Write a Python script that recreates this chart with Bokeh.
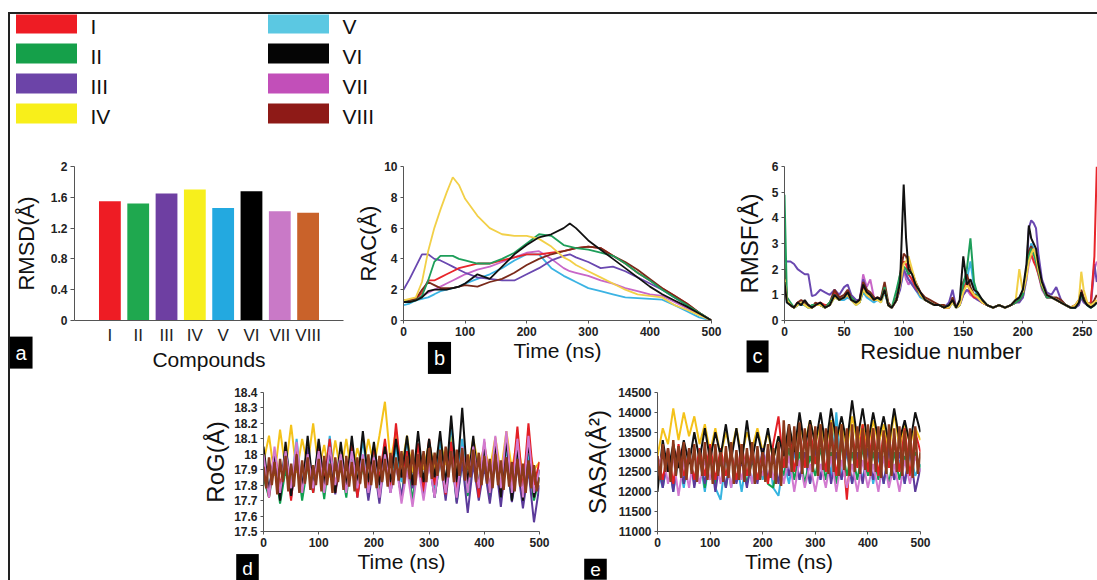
from bokeh.plotting import figure
from bokeh.layouts import column, row
from bokeh.models import Range1d, FactorRange, FixedTicker, NumeralTickFormatter, Label, Spacer, ColumnDataSource
from bokeh.core.properties import value
from bokeh.embed import file_html
from bokeh.resources import INLINE

FONT = "Liberation Sans"

# ---------------- data ----------------
compounds = ["I", "II", "III", "IV", "V", "VI", "VII", "VIII"]
legend_colors = ["#ee1c24", "#15a04a", "#6c44a8", "#f8ef1a", "#5bc8e2", "#050505", "#c24fb9", "#8e1a17"]
bar_colors = ["#ee1c24", "#1fa84f", "#6e3fa2", "#f7ef1c", "#23a9e0", "#000000", "#c979c7", "#c9622a"]
line_colors = ["#e8262b", "#1e9e5a", "#6a48b0", "#f2d048", "#3bb3e3", "#111111", "#c866c8", "#7a2a1a"]
band_colors = ["#e31e24", "#10a050", "#5b3a9a", "#f4c21a", "#35b4e0", "#111111", "#d27ad0", "#8c3a1c"]

rmsd = [1.55, 1.52, 1.65, 1.70, 1.46, 1.68, 1.42, 1.40]

# RAC (b)
rac_time = [0, 10, 20, 30, 40, 50, 60, 70, 80, 90, 100, 120, 140, 160, 180, 200, 220, 240, 260, 270,
            280, 300, 320, 340, 360, 380, 400, 420, 440, 460, 480, 500]
rac_I = [1.3, 1.3, 1.4, 1.8, 2.6, 2.6, 2.8, 3.0, 3.2, 3.4, 3.5, 3.7, 3.7, 3.9, 4.1, 4.3, 4.3, 4.4, 4.5, 4.6,
         4.7, 4.8, 4.7, 4.2, 3.7, 3.1, 2.6, 2.1, 1.6, 1.1, 0.5, 0.0]
rac_II = [1.3, 1.2, 1.3, 1.6, 2.6, 3.8, 4.2, 4.2, 4.2, 4.0, 3.9, 3.7, 3.7, 4.0, 4.4, 5.0, 5.6, 5.5, 4.9, 4.8,
          4.7, 4.6, 4.4, 4.2, 3.7, 3.1, 2.6, 2.0, 1.5, 1.0, 0.5, 0.0]
rac_III = [2.0, 2.7, 3.5, 4.3, 4.3, 4.0, 3.9, 3.7, 3.5, 3.3, 3.1, 2.8, 2.7, 2.6, 2.6, 3.0, 3.4, 3.9, 4.2, 4.3,
           4.1, 3.8, 3.4, 3.5, 3.2, 2.8, 2.4, 2.0, 1.5, 1.0, 0.5, 0.0]
rac_IV = [1.3, 1.4, 1.5, 2.5, 4.5, 6.0, 7.2, 8.3, 9.3, 8.8, 7.9, 6.8, 6.0, 5.6, 5.5, 5.5, 5.3, 4.8, 4.1, 3.9,
          3.6, 3.2, 2.8, 2.4, 2.0, 1.7, 1.6, 1.5, 1.0, 0.7, 0.35, 0.0]
rac_V = [1.0, 1.1, 1.3, 1.4, 1.5, 1.7, 1.9, 2.0, 2.1, 2.2, 2.4, 2.7, 3.0, 3.4, 3.9, 4.3, 4.3, 3.4, 2.9, 2.7,
         2.5, 2.1, 1.9, 1.7, 1.5, 1.45, 1.4, 1.35, 1.0, 0.6, 0.2, 0.0]
rac_VI = [1.2, 1.2, 1.3, 1.5, 1.9, 2.0, 2.0, 2.0, 2.1, 2.2, 2.4, 3.0, 2.7, 3.5, 4.3, 4.9, 5.4, 5.6, 6.0, 6.3,
          6.0, 5.2, 4.6, 4.0, 3.4, 2.8, 2.2, 1.7, 1.3, 0.9, 0.45, 0.0]
rac_VII = [1.2, 1.2, 1.4, 1.6, 1.8, 2.0, 2.2, 2.4, 2.6, 2.8, 3.0, 3.3, 3.5, 3.8, 4.1, 4.4, 4.5, 4.0, 3.4, 3.2,
           3.1, 2.9, 2.6, 2.4, 2.1, 1.9, 1.7, 1.6, 1.2, 0.8, 0.4, 0.0]
rac_VIII = [1.3, 1.3, 1.4, 2.0, 2.5, 2.3, 2.1, 2.1, 2.1, 2.2, 2.3, 2.2, 2.5, 2.7, 3.1, 3.6, 4.0, 4.3, 4.5, 4.6,
            4.7, 4.8, 4.7, 4.2, 3.8, 3.3, 2.7, 2.1, 1.6, 1.1, 0.5, 0.0]

# RMSF (c)
residue = [0, 2, 5, 8, 11, 14, 17, 20, 23, 26,
           30, 34, 38, 42, 46, 50, 53, 56, 60, 63,
           66, 69, 72, 75, 78, 81, 84, 87, 90, 94,
           97, 100, 102, 104, 107, 110, 114, 118, 122, 126,
           130, 134, 138, 141, 144, 147, 150, 153, 156, 159,
           162, 166, 170, 175, 180, 185, 190, 194, 197, 200,
           203, 205, 207, 209, 211, 213, 216, 220, 224, 228,
           232, 236, 240, 244, 247, 249, 251, 254, 257, 260,
           262]
rmsf_I = [1.8, 0.8, 0.6, 0.5, 0.7, 0.7, 0.6, 0.6, 0.5, 0.6,
          0.7, 0.6, 0.6, 1.1, 0.9, 0.9, 1.0, 0.8, 0.7, 0.7,
          1.3, 1.0, 0.9, 0.8, 0.9, 0.8, 1.3, 0.6, 0.5, 0.8,
          1.5, 2.3, 2.2, 1.8, 1.6, 1.3, 1.0, 0.8, 0.7, 0.6,
          0.6, 0.5, 0.5, 0.8, 0.5, 0.7, 1.2, 1.5, 1.1, 0.9,
          0.9, 0.7, 0.6, 0.5, 0.6, 0.5, 0.6, 0.7, 0.8, 1.0,
          1.8, 2.4, 2.6, 2.3, 2.1, 1.8, 1.3, 0.9, 0.9, 0.8,
          0.7, 0.6, 0.5, 0.6, 0.7, 1.1, 0.8, 0.6, 0.7, 2.5,
          6.0]
rmsf_II = [4.9, 0.9, 0.7, 0.5, 0.6, 0.7, 0.6, 0.5, 0.6, 0.6,
           0.6, 0.5, 0.7, 1.0, 0.8, 0.9, 1.0, 0.9, 0.7, 0.7,
           1.2, 1.0, 1.0, 0.8, 0.8, 0.8, 1.3, 0.6, 0.5, 1.2,
           1.8, 2.1, 2.0, 1.8, 1.9, 1.4, 1.0, 0.8, 0.7, 0.6,
           0.6, 0.5, 0.6, 0.7, 0.5, 0.6, 1.4, 2.0, 3.2, 1.5,
           1.0, 0.8, 0.6, 0.5, 0.6, 0.5, 0.6, 0.7, 0.8, 1.0,
           1.8, 2.5, 2.8, 2.6, 2.3, 1.9, 1.3, 0.9, 0.9, 0.8,
           0.7, 0.6, 0.5, 0.5, 0.7, 1.0, 0.8, 0.6, 0.5, 0.6,
           0.7]
rmsf_III = [2.4, 2.3, 2.3, 2.2, 2.0, 1.9, 1.8, 1.8, 0.95, 1.0,
            1.2, 1.1, 1.0, 1.2, 1.0, 1.3, 1.4, 1.0, 0.8, 0.8,
            1.6, 1.2, 1.0, 0.9, 0.8, 0.9, 1.2, 0.7, 0.5, 0.8,
            1.2, 2.0, 1.8, 1.6, 1.4, 1.2, 1.0, 0.8, 0.7, 0.6,
            0.6, 0.5, 0.7, 1.2, 0.5, 0.6, 1.0, 1.2, 1.1, 0.9,
            0.8, 0.7, 0.6, 0.5, 0.6, 0.5, 0.6, 0.7, 0.7, 0.9,
            1.8, 3.6, 3.9, 3.8, 3.6, 2.6, 1.6, 1.1, 1.0, 1.3,
            0.8, 0.6, 0.5, 0.5, 0.6, 0.9, 0.7, 0.6, 0.7, 2.2,
            1.5]
rmsf_IV = [1.6, 0.8, 0.6, 0.5, 0.6, 0.7, 0.6, 0.5, 0.5, 0.6,
           0.6, 0.5, 0.6, 0.9, 0.8, 0.9, 1.0, 0.8, 0.6, 0.7,
           1.2, 1.0, 0.9, 0.8, 0.8, 0.7, 1.2, 0.6, 0.5, 0.8,
           1.4, 2.2, 2.3, 2.5, 2.0, 1.5, 1.0, 0.8, 0.7, 0.6,
           0.6, 0.5, 0.5, 0.7, 0.5, 0.6, 1.1, 1.4, 1.2, 1.0,
           0.9, 0.7, 0.6, 0.5, 0.6, 0.5, 0.6, 0.8, 2.0, 1.1,
           1.7, 2.3, 2.6, 2.8, 2.5, 2.0, 1.4, 1.0, 0.9, 0.8,
           0.7, 0.6, 0.5, 0.6, 0.8, 1.9, 1.2, 0.7, 0.6, 0.7,
           0.8]
rmsf_V = [1.4, 0.7, 0.6, 0.5, 0.6, 0.6, 0.6, 0.5, 0.5, 0.6,
          0.6, 0.5, 0.6, 0.9, 0.8, 0.8, 0.9, 0.8, 0.6, 0.7,
          1.1, 0.9, 0.8, 0.7, 0.8, 0.7, 1.1, 0.6, 0.5, 0.8,
          1.3, 1.9, 1.8, 1.6, 1.5, 1.2, 0.9, 0.8, 0.7, 0.6,
          0.6, 0.5, 0.5, 0.7, 0.5, 0.6, 1.2, 1.6, 2.3, 1.3,
          0.9, 0.7, 0.6, 0.5, 0.6, 0.5, 0.6, 0.8, 0.8, 0.9,
          1.6, 2.6, 3.0, 2.8, 2.4, 1.9, 1.3, 0.9, 0.9, 0.8,
          0.7, 0.6, 0.5, 0.5, 0.7, 1.0, 0.8, 0.6, 0.5, 0.6,
          0.7]
rmsf_VI = [1.5, 0.7, 0.6, 0.5, 0.7, 0.6, 0.8, 0.6, 0.5, 0.6,
           0.7, 0.5, 0.6, 1.0, 0.8, 0.9, 1.1, 0.8, 0.7, 0.8,
           1.4, 1.1, 1.0, 0.8, 0.9, 0.8, 1.2, 0.6, 0.5, 0.8,
           1.5, 5.3, 3.2, 2.0, 1.8, 1.4, 1.1, 0.8, 0.7, 0.6,
           0.6, 0.5, 0.6, 0.8, 0.5, 0.8, 2.5, 1.4, 1.6, 1.2,
           1.1, 0.8, 0.6, 0.5, 0.6, 0.5, 0.6, 0.8, 0.9, 1.2,
           2.2, 3.7, 3.2, 3.0, 2.8, 2.2, 1.5, 1.0, 0.9, 0.8,
           0.7, 0.6, 0.5, 0.5, 0.7, 1.1, 0.8, 0.6, 0.5, 0.6,
           0.7]
rmsf_VII = [1.5, 0.8, 0.6, 0.5, 0.6, 0.7, 0.6, 0.6, 0.5, 0.6,
            0.7, 0.5, 0.6, 1.0, 0.9, 0.9, 1.1, 0.9, 0.7, 0.7,
            1.8, 1.3, 1.6, 0.9, 0.8, 0.8, 1.3, 0.6, 0.5, 0.8,
            1.4, 2.0, 1.6, 1.4, 1.6, 1.3, 1.0, 0.8, 0.7, 0.6,
            0.6, 0.5, 0.5, 0.8, 0.5, 0.6, 1.0, 1.2, 1.0, 0.9,
            0.9, 0.7, 0.6, 0.5, 0.6, 0.5, 0.6, 0.7, 0.8, 0.9,
            1.6, 2.2, 2.5, 2.4, 2.2, 1.8, 1.2, 0.9, 0.9, 0.8,
            0.7, 0.6, 0.5, 0.5, 0.7, 1.0, 0.8, 0.6, 0.6, 2.0,
            2.3]
rmsf_VIII = [2.2, 0.9, 0.6, 0.5, 0.7, 0.8, 0.7, 0.6, 0.5, 0.7,
             0.6, 0.5, 0.7, 1.2, 0.9, 1.0, 1.2, 0.9, 0.7, 0.8,
             1.5, 1.2, 1.1, 0.9, 0.8, 0.9, 1.5, 0.7, 0.5, 0.9,
             1.8, 2.6, 2.5, 2.2, 1.9, 1.5, 1.1, 0.9, 0.8, 0.7,
             0.6, 0.6, 0.5, 0.9, 0.5, 0.7, 1.5, 1.8, 1.3, 1.0,
             1.0, 0.8, 0.6, 0.5, 0.6, 0.5, 0.6, 0.8, 0.8, 1.1,
             2.0, 2.7, 2.9, 2.6, 2.4, 2.0, 1.4, 1.0, 0.9, 0.9,
             0.8, 0.6, 0.5, 0.6, 0.8, 1.2, 0.9, 0.7, 0.6, 0.8,
             1.0]

# RoG (d) and SASA (e): compounds I-VII every 10 ns, VIII every 5 ns
md_time = [0, 10, 20, 30, 40, 50, 60, 70, 80, 90,
           100, 110, 120, 130, 140, 150, 160, 170, 180, 190,
           200, 210, 220, 230, 240, 250, 260, 270, 280, 290,
           300, 310, 320, 330, 340, 350, 360, 370, 380, 390,
           400, 410, 420, 430, 440, 450, 460, 470, 480, 490,
           500]
md_time_fine = [0, 5, 10, 15, 20, 25, 30, 35, 40, 45,
                50, 55, 60, 65, 70, 75, 80, 85, 90, 95,
                100, 105, 110, 115, 120, 125, 130, 135, 140, 145,
                150, 155, 160, 165, 170, 175, 180, 185, 190, 195,
                200, 205, 210, 215, 220, 225, 230, 235, 240, 245,
                250, 255, 260, 265, 270, 275, 280, 285, 290, 295,
                300, 305, 310, 315, 320, 325, 330, 335, 340, 345,
                350, 355, 360, 365, 370, 375, 380, 385, 390, 395,
                400, 405, 410, 415, 420, 425, 430, 435, 440, 445,
                450, 455, 460, 465, 470, 475, 480, 485, 490, 495,
                500]
rog_I = [17.95, 17.72, 18.02, 17.8, 17.98, 17.7, 18.05, 17.76, 18.0, 17.75,
         18.05, 17.83, 18.1, 17.75, 18.0, 17.8, 18.08, 17.72, 17.97, 17.78,
         18.05, 17.84, 18.1, 17.79, 18.2, 17.85, 18.02, 17.8, 18.07, 17.76,
         18.1, 17.8, 18.0, 17.74, 18.08, 17.77, 18.02, 17.82, 18.05, 17.72,
         18.08, 17.76, 18.02, 17.74, 18.1, 17.8, 18.18, 17.76, 18.2, 17.8,
         17.95]
rog_II = [17.85, 17.72, 17.95, 17.68, 17.9, 17.74, 18.0, 17.7, 17.93, 17.75,
          17.98, 17.71, 18.01, 17.77, 17.94, 17.72, 18.02, 17.75, 17.92, 17.78,
          17.98, 17.74, 18.0, 17.79, 17.95, 17.72, 18.0, 17.7, 17.96, 17.76,
          18.0, 17.72, 17.97, 17.75, 18.05, 17.69, 17.95, 17.73, 17.98, 17.75,
          17.94, 17.71, 17.98, 17.74, 17.95, 17.7, 17.98, 17.73, 17.95, 17.7,
          17.85]
rog_III = [17.9, 17.78, 17.98, 17.74, 18.02, 17.72, 17.97, 17.8, 18.05, 17.76,
           18.08, 17.78, 18.02, 17.74, 17.98, 17.79, 18.05, 17.72, 17.98, 17.7,
           17.95, 17.68, 17.99, 17.75, 17.94, 17.72, 17.98, 17.78, 18.0, 17.74,
           17.95, 17.72, 17.98, 17.7, 18.02, 17.68, 17.95, 17.62, 17.94, 17.7,
           17.92, 17.68, 17.96, 17.66, 17.98, 17.69, 17.92, 17.65, 17.9, 17.56,
           17.8]
rog_IV = [17.95, 18.12, 17.86, 18.16, 17.9, 18.19, 17.88, 18.1, 17.93, 18.2,
          17.9, 18.06, 17.85, 18.09, 17.88, 18.1, 17.86, 18.04, 17.9, 18.1,
          17.92, 18.12, 18.34, 17.95, 18.15, 17.91, 18.12, 17.88, 18.05, 17.9,
          18.08, 17.9, 18.1, 17.93, 18.12, 17.88, 18.05, 17.9, 18.1, 17.92,
          18.05, 17.9, 18.11, 17.88, 18.15, 17.9, 18.1, 17.86, 18.06, 17.9,
          17.95]
rog_V = [17.9, 17.75, 18.0, 17.73, 18.05, 17.78, 18.1, 17.76, 18.0, 17.8,
         18.05, 17.8, 18.12, 17.78, 18.0, 17.75, 18.06, 17.8, 18.1, 17.82,
         18.02, 17.78, 18.08, 17.8, 18.05, 17.82, 18.1, 17.8, 17.95, 17.75,
         18.05, 17.78, 18.1, 17.8, 18.2, 17.82, 18.1, 17.78, 18.0, 17.75,
         18.02, 17.72, 18.0, 17.75, 18.05, 17.72, 17.98, 17.7, 18.0, 17.75,
         17.85]
rog_VI = [18.05, 17.75, 18.02, 17.7, 18.08, 17.73, 18.0, 17.76, 18.12, 17.78,
          18.1, 17.8, 18.05, 17.75, 18.08, 17.78, 18.12, 17.8, 18.15, 17.82,
          18.08, 17.8, 18.05, 17.82, 18.1, 17.85, 18.12, 17.8, 18.15, 17.82,
          18.1, 17.85, 18.15, 17.8, 18.25, 17.82, 18.3, 17.8, 18.12, 17.78,
          18.05, 17.75, 18.08, 17.72, 18.1, 17.7, 18.05, 17.7, 18.08, 17.72,
          17.9]
rog_VII = [18.0, 17.72, 18.05, 17.75, 18.02, 17.78, 18.08, 17.75, 18.0, 17.78,
           18.02, 17.75, 18.05, 17.8, 18.0, 17.75, 18.02, 17.78, 18.0, 17.75,
           17.98, 17.72, 18.0, 17.75, 17.95, 17.68, 17.9, 17.66, 17.92, 17.7,
           17.95, 17.72, 18.0, 17.75, 18.02, 17.72, 18.05, 17.75, 18.05, 17.78,
           18.1, 17.75, 18.12, 17.78, 18.15, 17.75, 18.1, 17.72, 18.12, 17.75,
           17.9]
rog_VIII = [17.92, 17.78, 17.98, 17.8, 17.95, 17.74, 17.97, 17.82, 17.99, 17.76,
            17.94, 17.79, 18.0, 17.75, 17.96, 17.81, 17.98, 17.77, 17.93, 17.8,
            17.97, 17.76, 17.99, 17.8, 17.94, 17.75, 17.98, 17.82, 17.96, 17.77,
            17.99, 17.79, 17.95, 17.76, 17.98, 17.81, 17.97, 17.78, 18.0, 17.8,
            17.96, 17.78, 17.99, 17.82, 17.97, 17.79, 18.01, 17.8, 17.98, 17.83,
            18.02, 17.81, 17.99, 17.84, 18.03, 17.8, 18.0, 17.85, 18.02, 17.82,
            18.04, 17.84, 18.01, 17.86, 18.03, 17.83, 18.05, 17.85, 18.02, 17.82,
            18.03, 17.86, 18.04, 17.83, 18.0, 17.85, 18.03, 17.82, 18.01, 17.8,
            17.99, 17.81, 17.97, 17.78, 18.0, 17.8, 17.96, 17.77, 17.98, 17.79,
            17.95, 17.76, 17.97, 17.79, 17.94, 17.75, 17.96, 17.78, 17.93, 17.76,
            17.85]

sasa_I = [12900, 12300, 13100, 12200, 13200, 12400, 13000, 12300, 13100, 12400,
          13200, 12300, 13100, 12400, 13000, 12300, 13200, 12400, 13100, 12300,
          13000, 12200, 13200, 13900, 12600, 13600, 12500, 13500, 12600, 13600,
          12700, 13500, 12500, 13600, 12400, 13400, 11800, 13500, 12600, 13700,
          12500, 13600, 12400, 13500, 12600, 13400, 12500, 13600, 12400, 13500,
          13000]
sasa_II = [12700, 12200, 12900, 12100, 13000, 12200, 12900, 12300, 13000, 12100,
           12900, 12200, 12800, 12100, 13000, 12300, 12900, 12200, 12800, 12300,
           13000, 12200, 12100, 12900, 12400, 13100, 12300, 13000, 12200, 12900,
           12400, 13100, 12300, 13000, 12200, 13200, 12400, 13000, 12300, 13100,
           12400, 13000, 12300, 12900, 12200, 13000, 12300, 12900, 12400, 13000,
           12600]
sasa_III = [12800, 12100, 12900, 12000, 13000, 12200, 13100, 12100, 12900, 12200,
            13000, 12000, 12900, 12100, 13000, 12200, 12800, 12100, 12900, 12200,
            13100, 12300, 13000, 12200, 13200, 12400, 13100, 12300, 13000, 12200,
            13100, 12300, 13300, 12200, 13000, 12300, 13100, 12200, 13000, 12200,
            13100, 12300, 13000, 12200, 13100, 12300, 13000, 12200, 13100, 12000,
            12600]
sasa_IV = [12900, 13600, 13200, 14100, 13300, 14000, 13400, 13900, 13200, 13700,
           13000, 13600, 12900, 13500, 13000, 13600, 12900, 13500, 13100, 13600,
           13000, 13500, 12800, 13400, 13000, 13600, 13100, 13700, 13200, 13800,
           13200, 13700, 13100, 13800, 13200, 13700, 13100, 13900, 13200, 13700,
           13100, 13800, 13200, 13700, 13000, 14000, 13100, 13700, 13200, 13600,
           13300]
sasa_V = [12600, 12100, 12900, 12000, 12800, 12100, 13000, 12200, 12900, 12000,
          13000, 12100, 11800, 12900, 12100, 12800, 12000, 12900, 12200, 13000,
          12300, 13100, 12100, 11900, 12800, 12200, 13000, 12300, 12900, 12200,
          13000, 12300, 13200, 12400, 14000, 12300, 13000, 12200, 12900, 12300,
          13100, 12200, 12900, 12200, 13000, 12300, 12800, 12200, 13000, 12400,
          12700]
sasa_VI = [12000, 13300, 12500, 13200, 12600, 13300, 12700, 13500, 12800, 13600,
           12800, 13500, 12900, 13700, 12800, 13600, 12700, 13800, 12800, 13500,
           12900, 13600, 12800, 13400, 12900, 13700, 13000, 14000, 13100, 13800,
           13200, 14000, 13100, 14100, 13300, 13900, 13200, 14300, 13300, 14100,
           13200, 14000, 13300, 13900, 13200, 14100, 13300, 13800, 13200, 14000,
           13500]
sasa_VII = [12500, 13000, 12200, 12900, 11900, 12800, 12100, 13000, 12200, 12800,
            12300, 12900, 12200, 13000, 12100, 12900, 12300, 13000, 12200, 12900,
            12400, 13100, 12300, 13000, 12200, 12900, 12000, 12800, 12100, 12700,
            12000, 12700, 12100, 12900, 12000, 12800, 12100, 12700, 12000, 12800,
            12100, 12700, 12000, 12900, 12100, 12700, 12000, 12800, 12200, 12900,
            12500]
sasa_VIII = [12900, 12300, 13200, 12500, 13100, 12250, 13300, 12400, 13150, 12350,
             13250, 12300, 13100, 12450, 13200, 12250, 13050, 12400, 13250, 12300,
             13100, 12200, 13200, 12400, 13000, 12250, 13150, 12350, 13250, 12200,
             13050, 12300, 13200, 12250, 13100, 12400, 13250, 12200, 13150, 12300,
             13000, 12250, 13200, 12350, 13100, 12200, 13250, 12150, 13800, 12600,
             13700, 12500, 13650, 12650, 13750, 12450, 13600, 12600, 13700, 12500,
             13650, 12400, 13700, 12550, 13600, 12450, 13750, 12500, 13650, 12400,
             13700, 12550, 13600, 12400, 13700, 12500, 13650, 12450, 13600, 12550,
             13700, 12400, 13600, 12500, 13650, 12350, 13550, 12450, 13700, 12400,
             13600, 12500, 13650, 12400, 13550, 12450, 13600, 12350, 13650, 12450,
             13000]

rac_series = [rac_I, rac_II, rac_III, rac_IV, rac_V, rac_VI, rac_VII, rac_VIII]
rmsf_series = [rmsf_I, rmsf_II, rmsf_III, rmsf_IV, rmsf_V, rmsf_VI, rmsf_VII, rmsf_VIII]
rog_series = [rog_I, rog_II, rog_III, rog_IV, rog_V, rog_VI, rog_VII, rog_VIII]
sasa_series = [sasa_I, sasa_II, sasa_III, sasa_IV, sasa_V, sasa_VI, sasa_VII, sasa_VIII]
md_times = [md_time] * 7 + [md_time_fine]


# ---------------- helpers ----------------
def make_fig(width, height, left, right, top, bottom, **kw):
    p = figure(width=width, height=height, output_backend="svg", toolbar_location=None,
               min_border_left=left, min_border_right=right,
               min_border_top=top, min_border_bottom=bottom, **kw)
    p.outline_line_color = None
    p.xgrid.grid_line_color = None
    p.ygrid.grid_line_color = None
    p.background_fill_color = "white"
    p.border_fill_color = "white"
    return p


def style_axis(ax, label_size="21px", label_standoff=0, tick_size="12px", bold=True, tick_out=3):
    ax.axis_line_color = "#555555"
    ax.axis_line_width = 1
    ax.major_tick_line_color = "#555555"
    ax.major_tick_out = tick_out
    ax.major_tick_in = 0
    ax.minor_tick_line_color = None
    ax.major_label_text_font = FONT
    ax.major_label_text_font_size = tick_size
    ax.major_label_text_font_style = "bold" if bold else "normal"
    ax.major_label_text_color = "#222222"
    ax.major_label_standoff = 3
    ax.axis_label_text_font = FONT
    ax.axis_label_text_font_size = label_size
    ax.axis_label_text_font_style = "normal"
    ax.axis_label_text_color = "#111111"
    ax.axis_label_standoff = label_standoff


def panel_label(p, letter, x, y, side, size="20px", pad=(6, 5)):
    # placed in a side panel that has spare room, so that it is not clipped to the plot frame
    p.add_layout(Label(x=x, y=y, text=letter,
                       text_color="white", text_font=FONT, text_font_size=size,
                       text_align="center", text_baseline="middle",
                       background_fill_color="black", padding=pad), side)


order = [4, 6, 2, 0, 7, 1, 3, 5]   # drawing order for panel b / c
band_order = [3, 4, 1, 2, 0, 5, 6, 7]  # drawing order for d / e

# ---------------- legend row ----------------
leg = figure(width=1087, height=113, output_backend="svg", toolbar_location=None,
             x_range=Range1d(0, 1087), y_range=Range1d(113, 0),
             x_axis_type=None, y_axis_type=None,
             min_border_left=0, min_border_right=0, min_border_top=0, min_border_bottom=0)
leg.outline_line_color = None
leg.xgrid.grid_line_color = None
leg.ygrid.grid_line_color = None
leg_src = ColumnDataSource(dict(
    name=compounds,
    color=legend_colors,
    sx=[36 + 252 * (i // 4) for i in range(len(compounds))],
    tx=[80 + 252 * (i // 4) for i in range(len(compounds))],
    sy=[9 + 30 * (i % 4) for i in range(len(compounds))],
    ty=[0 + 30 * (i % 4) for i in range(len(compounds))],
))
leg.rect(x="sx", y="sy", width=61, height=20, fill_color="color", line_color=None, source=leg_src)
leg.text(x="tx", y="ty", text="name", text_font=value(FONT), text_font_size="21px",
         text_baseline="top", text_align="left", text_color="#111111", source=leg_src)

# ---------------- panel a ----------------
pa = make_fig(340, 248, 62, 7, 26, 54,
              x_range=FactorRange(factors=compounds, range_padding=0.75, range_padding_units="absolute"),
              y_range=Range1d(0, 2))
pa.vbar(x=compounds, top=rmsd, width=0.77, fill_color=bar_colors, line_color=None)
pa.xaxis.axis_label = "Compounds"
pa.yaxis.axis_label = "RMSD(Å)"
style_axis(pa.xaxis[0], label_size="21px", label_standoff=0, tick_size="17px", bold=False, tick_out=0)
pa.xaxis.major_tick_line_color = None
pa.xaxis.major_label_standoff = 5
style_axis(pa.yaxis[0], label_size="22px", label_standoff=9, tick_out=4)
pa.yaxis.ticker = FixedTicker(ticks=[0, 0.4, 0.8, 1.2, 1.6, 2])
pa.yaxis.formatter = NumeralTickFormatter(format="0.[0]")
panel_label(pa, "a", -2.64, -0.417, "above")

# ---------------- panel b ----------------
pb = make_fig(378, 248, 53, 17, 39, 55, x_range=Range1d(0, 500), y_range=Range1d(0, 10))
for i in order:
    pb.line(rac_time, rac_series[i], line_color=line_colors[i], line_width=1.8)
pb.xaxis.axis_label = "Time (ns)"
pb.yaxis.axis_label = "RAC(Å)"
style_axis(pb.xaxis[0], label_standoff=0)
style_axis(pb.yaxis[0], label_size="22px", label_standoff=0)
pb.xaxis.ticker = FixedTicker(ticks=[0, 100, 200, 300, 400, 500])
pb.yaxis.ticker = FixedTicker(ticks=[0, 2, 4, 6, 8, 10])
panel_label(pb, "b", 58.4, -2.43, "above")

# ---------------- panel c ----------------
pc = make_fig(369, 248, 56, 0, 39, 55, x_range=Range1d(0, 262.6), y_range=Range1d(0, 6))
for i in order:
    pc.line(residue, rmsf_series[i], line_color=line_colors[i], line_width=2)
pc.xaxis.axis_label = "Residue number"
pc.yaxis.axis_label = "RMSF(Å)"
style_axis(pc.xaxis[0], label_size="22px", label_standoff=0)
style_axis(pc.yaxis[0], label_size="24px", label_standoff=6)
pc.xaxis.ticker = FixedTicker(ticks=[0, 50, 100, 150, 200, 250])
pc.yaxis.ticker = FixedTicker(ticks=[0, 1, 2, 3, 4, 5, 6])
panel_label(pc, "c", -22.6, -1.40, "above")

# ---------------- panel d ----------------
pd_ = make_fig(380, 205, 73, 31, 16, 49, x_range=Range1d(0, 500), y_range=Range1d(17.5, 18.4))
for i in band_order:
    pd_.line(md_times[i], rog_series[i], line_color=band_colors[i], line_width=2.4 if i == 7 else 2)
pd_.xaxis.axis_label = "Time (ns)"
pd_.yaxis.axis_label = "RoG(Å)"
style_axis(pd_.xaxis[0], label_standoff=0)
style_axis(pd_.yaxis[0], label_size="24px", label_standoff=2)
pd_.xaxis.ticker = FixedTicker(ticks=[0, 100, 200, 300, 400, 500])
pd_.yaxis.ticker = FixedTicker(ticks=[17.5, 17.6, 17.7, 17.8, 17.9, 18.0, 18.1, 18.2, 18.3, 18.4])
pd_.yaxis.formatter = NumeralTickFormatter(format="0.[0]")
panel_label(pd_, "d", -29, 17.26, "right", size="19px", pad=(6, 4))

# ---------------- panel e ----------------
pe = make_fig(527, 205, 87, 177, 17, 48, x_range=Range1d(0, 500), y_range=Range1d(11000, 14500))
for i in band_order:
    pe.line(md_times[i], sasa_series[i], line_color=band_colors[i], line_width=2.4 if i == 7 else 2)
pe.xaxis.axis_label = "Time (ns)"
pe.yaxis.axis_label = "SASA(Å²)"
style_axis(pe.xaxis[0], label_standoff=0)
style_axis(pe.yaxis[0], label_size="24px", label_standoff=4)
pe.xaxis.ticker = FixedTicker(ticks=[0, 100, 200, 300, 400, 500])
pe.yaxis.ticker = FixedTicker(ticks=[11000, 11500, 12000, 12500, 13000, 13500, 14000, 14500])
panel_label(pe, "e", -117.9, 10050, "right", size="19px", pad=(6, 4))

layout = column(
    leg,
    row(pa, pb, pc),
    row(Spacer(width=180, height=205), pd_, pe),
    styles={"border-top": "2px solid #222222", "border-left": "2px solid #222222"},
    margin=(12, 0, 0, 8),
)

open("out.html", "w").write(file_html(layout, INLINE))
